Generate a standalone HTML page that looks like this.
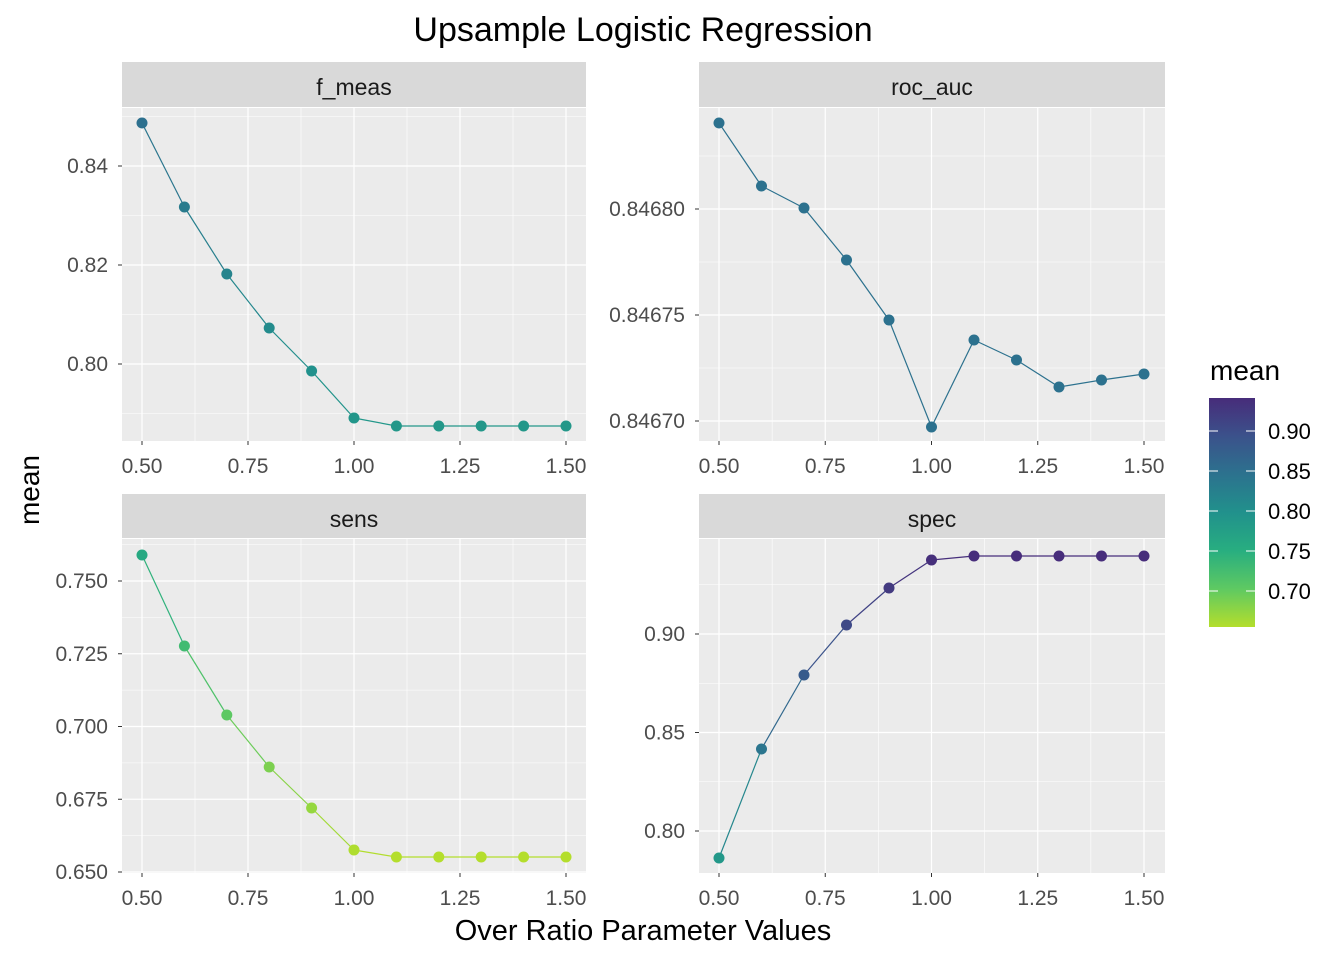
<!DOCTYPE html>
<html><head><meta charset="utf-8"><style>
html,body{margin:0;padding:0;background:#fff;}
svg{display:block;font-family:"Liberation Sans",Arial,sans-serif;}
</style></head><body>
<svg id="s" width="1344" height="960" xmlns="http://www.w3.org/2000/svg">
<defs><linearGradient id="vg" x1="0" y1="0" x2="0" y2="1">
<stop offset="0" stop-color="#472c7a"/><stop offset="0.167" stop-color="#3b528b"/>
<stop offset="0.333" stop-color="#2c728e"/><stop offset="0.5" stop-color="#21918c"/>
<stop offset="0.667" stop-color="#28ae80"/><stop offset="0.833" stop-color="#5ec962"/>
<stop offset="1" stop-color="#b4de2c"/></linearGradient></defs>
<text x="643" y="41" font-size="34" text-anchor="middle" fill="#000">Upsample Logistic Regression</text>
<text x="643" y="940" font-size="29" text-anchor="middle" fill="#000">Over Ratio Parameter Values</text>
<text x="39" y="490" font-size="28" text-anchor="middle" fill="#000" transform="rotate(-90 39 490)">mean</text>
<text x="1210" y="380" font-size="28" fill="#000">mean</text>
<rect x="1209" y="398" width="46" height="229" fill="url(#vg)"/>
<g id="g"></g>
</svg>
<script>
const stops=["#472c7a","#3b528b","#2c728e","#21918c","#28ae80","#5ec962","#b4de2c"];
function hex(h){return [1,3,5].map(i=>parseInt(h.substr(i,2),16));}
function col(v){let f=(0.941-v)/(0.941-0.655);f=Math.max(0,Math.min(1,f))*6;let i=Math.min(5,Math.floor(f)),t=f-i;let a=hex(stops[i]),b=hex(stops[i+1]);return "rgb("+a.map((x,k)=>Math.round(x+(b[k]-x)*t)).join(",")+")";}
let o="";
[[0.90,431],[0.85,471],[0.80,511],[0.75,551],[0.70,591]].forEach(([v,y])=>{
o+=`<line x1="1209" x2="1218" y1="${y}" y2="${y}" stroke="#fff" stroke-width="1"/><line x1="1246" x2="1255" y1="${y}" y2="${y}" stroke="#fff" stroke-width="1"/>`;
o+=`<text x="1268" y="${y+8}" font-size="22" fill="#000">${v.toFixed(2)}</text>`;});
const xs=[0.5,0.6,0.7,0.8,0.9,1.0,1.1,1.2,1.3,1.4,1.5];
const P=[
{name:"f_meas",x0:122,x1:586,sy:62,py0:108,py1:441,ax:142,bx:566,yv:[0.84,0.80],yp:[166,364],ticks:[0.80,0.82,0.84],dec:2,minor:[0.79,0.81,0.83,0.85],
 pts:[123,207,274,328,371,418,426,426,426,426,426]},
{name:"roc_auc",x0:699,x1:1165,sy:62,py0:108,py1:441,ax:719,bx:1144,yv:[0.8468,0.8467],yp:[209,421],ticks:[0.8467,0.84675,0.8468],dec:5,minor:[0.846725,0.846775,0.846825],
 pts:[123,186,208,260,320,427,340,360,387,380,374]},
{name:"sens",x0:122,x1:586,sy:494,py0:539,py1:873,ax:142,bx:566,yv:[0.75,0.65],yp:[581,872],ticks:[0.65,0.675,0.70,0.725,0.75],dec:3,minor:[0.6625,0.6875,0.7125,0.7375,0.7625],
 pts:[555,646,715,767,808,850,857,857,857,857,857]},
{name:"spec",x0:699,x1:1165,sy:494,py0:539,py1:873,ax:719,bx:1144,yv:[0.90,0.80],yp:[634,831],ticks:[0.80,0.85,0.90],dec:2,minor:[0.775,0.825,0.875,0.925],
 pts:[858,749,675,625,588,560,556,556,556,556,556]}];
P.forEach(p=>{
 const X=v=>p.ax+(v-0.5)*(p.bx-p.ax);
 const Y=v=>p.yp[0]+(v-p.yv[0])*(p.yp[1]-p.yp[0])/(p.yv[1]-p.yv[0]);
 const V=y=>p.yv[0]+(y-p.yp[0])*(p.yv[1]-p.yv[0])/(p.yp[1]-p.yp[0]);
 o+=`<rect x="${p.x0}" y="${p.sy}" width="${p.x1-p.x0}" height="${p.py0-p.sy-1}" fill="#d9d9d9"/>`;
 o+=`<text x="${(p.x0+p.x1)/2}" y="${p.sy+33}" font-size="23" text-anchor="middle" fill="#1a1a1a">${p.name}</text>`;
 o+=`<rect x="${p.x0}" y="${p.py0}" width="${p.x1-p.x0}" height="${p.py1-p.py0}" fill="#ebebeb"/>`;
 p.minor.forEach(v=>{const y=Y(v);if(y>p.py0&&y<p.py1)o+=`<line x1="${p.x0}" x2="${p.x1}" y1="${y}" y2="${y}" stroke="#fff" stroke-width="0.6"/>`;});
 [0.625,0.875,1.125,1.375].forEach(v=>{o+=`<line x1="${X(v)}" x2="${X(v)}" y1="${p.py0}" y2="${p.py1}" stroke="#fff" stroke-width="0.6"/>`;});
 p.ticks.forEach(v=>{const y=Y(v);o+=`<line x1="${p.x0}" x2="${p.x1}" y1="${y}" y2="${y}" stroke="#fff" stroke-width="1.2"/><line x1="${p.x0-4}" x2="${p.x0}" y1="${y}" y2="${y}" stroke="#333" stroke-width="1"/><text x="${p.x0-14}" y="${y+7}" font-size="21" text-anchor="end" fill="#4d4d4d">${v.toFixed(p.dec)}</text>`;});
 [0.5,0.75,1.0,1.25,1.5].forEach(v=>{const x=X(v);o+=`<line x1="${x}" x2="${x}" y1="${p.py0}" y2="${p.py1}" stroke="#fff" stroke-width="1.2"/><line x1="${x}" x2="${x}" y1="${p.py1}" y2="${p.py1+4}" stroke="#333"/><text x="${x}" y="${p.py1+32}" font-size="21" text-anchor="middle" fill="#4d4d4d">${v.toFixed(2)}</text>`;});
 for(let i=0;i<10;i++){o+=`<line x1="${X(xs[i])}" y1="${p.pts[i]}" x2="${X(xs[i+1])}" y2="${p.pts[i+1]}" stroke="${col((V(p.pts[i])+V(p.pts[i+1]))/2)}" stroke-width="1.2"/>`;}
 xs.forEach((v,i)=>{o+=`<circle cx="${X(v)}" cy="${p.pts[i]}" r="5.5" fill="${col(V(p.pts[i]))}"/>`;});
});
document.getElementById("g").innerHTML=o;
</script>
</body></html>
